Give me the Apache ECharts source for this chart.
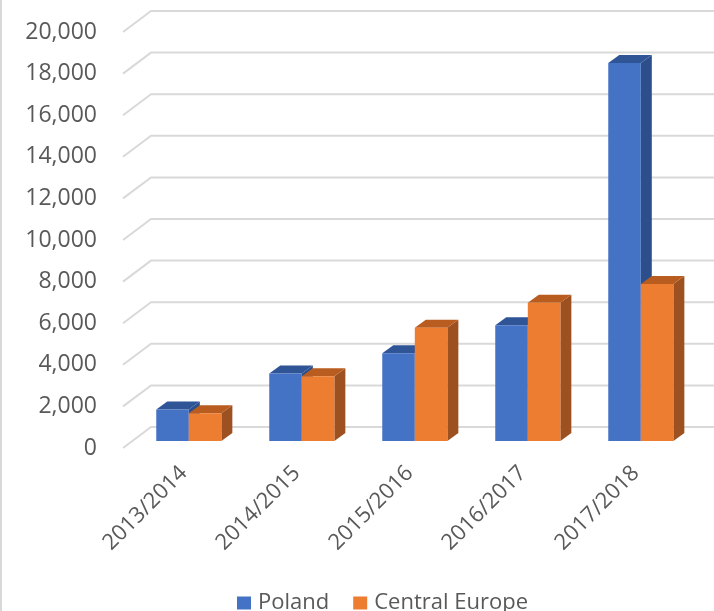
<!DOCTYPE html>
<html>
<head>
<meta charset="utf-8">
<script src="https://cdn.jsdelivr.net/npm/echarts@6/dist/echarts.min.js"></script>
<style>
  html, body { margin: 0; padding: 0; background: #ffffff; }
  #chart { width: 714px; height: 611px; }
</style>
</head>
<body>
<div id="chart"></div>
<script>
// Seasons on the category axis
const seasons = ['2013/2014', '2014/2015', '2015/2016', '2016/2017', '2017/2018'];
// Series values
const poland = [1520, 3240, 4220, 5560, 18170];
const centralEurope = [1330, 3110, 5450, 6650, 7550];
// Value axis ticks
const valueTicks = [0, 2000, 4000, 6000, 8000, 10000, 12000, 14000, 16000, 18000, 20000];

const FONT = '"Open Sans", "Noto Sans", sans-serif';
const TEXT = '#595959';
const GRID_LINE = '#d9d9d9';

// Oblique projection: floor depth (front edge -> back wall)
const WALL_DX = 28, WALL_DY = -21;
// Bars sit one third of the way into the floor
const BAR_OFF_X = 9.3, BAR_OFF_Y = -7;
// Bar depth
const BAR_DX = 11, BAR_DY = -8;
const BAR_FRACTION = 0.288;

const palettes = {
  blue:   { front: '#4472c4', top: '#2f5597', side: '#2c4f8c' },
  orange: { front: '#ed7d31', top: '#b95c1f', side: '#9d5120' }
};

function barRenderer(slot, pal) {
  return function (params, api) {
    const cat = api.value(0);
    const base = api.coord([cat, 0]);
    const top = api.coord([cat, api.value(1)]);
    const band = api.size([1, 0])[0];
    const w = band * BAR_FRACTION;
    const x0 = base[0] + BAR_OFF_X + (slot === 0 ? -w : 0);
    const x1 = x0 + w;
    const yb = base[1] + BAR_OFF_Y;
    const yt = top[1] + BAR_OFF_Y;
    return {
      type: 'group',
      children: [
        { type: 'polygon', shape: { points: [[x1, yb], [x1 + BAR_DX, yb + BAR_DY], [x1 + BAR_DX, yt + BAR_DY], [x1, yt]] },
          style: { fill: pal.side } },
        { type: 'polygon', shape: { points: [[x0, yt], [x1, yt], [x1 + BAR_DX, yt + BAR_DY], [x0 + BAR_DX, yt + BAR_DY]] },
          style: { fill: pal.top } },
        { type: 'rect', shape: { x: x0, y: yt, width: w, height: yb - yt },
          style: { fill: pal.front } }
      ]
    };
  };
}

const chart = echarts.init(document.getElementById('chart'), null, { renderer: 'canvas' });

chart.setOption({
  backgroundColor: '#ffffff',
  animation: false,
  textStyle: { fontFamily: FONT },
  graphic: [{
    type: 'line', shape: { x1: 1, y1: 0, x2: 1, y2: 611 },
    style: { stroke: '#d9d9d9', lineWidth: 2 }, silent: true
  }],
  grid: { left: 123, right: 26, top: 32, bottom: 163 },
  xAxis: {
    type: 'category',
    data: seasons,
    axisLine: { show: false },
    axisTick: { show: false },
    axisLabel: {
      rotate: 45, margin: 26, color: TEXT, fontSize: 22, fontFamily: FONT, interval: 0,
      padding: [0, -6, 0, 0]
    }
  },
  yAxis: {
    type: 'value',
    min: 0, max: 20000, interval: 2000,
    axisLine: { show: false },
    axisTick: { show: false },
    splitLine: { show: false },
    axisLabel: {
      margin: 26, color: TEXT, fontSize: 23, fontFamily: FONT,
      formatter: v => v.toLocaleString('en-US')
    }
  },
  legend: {
    top: 592,
    left: 237,
    padding: 0,
    icon: 'rect',
    itemWidth: 14, itemHeight: 13, itemGap: 24,
    textStyle: { color: TEXT, fontSize: 22, fontFamily: FONT, padding: [0, 0, 0, 2] },
    data: ['Poland', 'Central Europe']
  },
  series: [
    {
      name: 'gridlines',
      type: 'custom',
      z: 1,
      silent: true,
      data: valueTicks.map(v => [0, v]),
      encode: { x: 0, y: 1 },
      renderItem: (params, api) => {
        const cs = params.coordSys;
        const y = api.coord([0, api.value(1)])[1];
        const left = cs.x;
        const right = cs.x + cs.width + WALL_DX + 10;
        return {
          type: 'polyline',
          shape: { points: [[left, y], [left + WALL_DX, y + WALL_DY], [right, y + WALL_DY]] },
          style: { stroke: GRID_LINE, lineWidth: 2, fill: null },
          silent: true
        };
      }
    },
    {
      name: 'Poland',
      type: 'custom',
      z: 2,
      itemStyle: { color: palettes.blue.front },
      data: poland.map((v, i) => [i, v]),
      encode: { x: 0, y: 1 },
      renderItem: barRenderer(0, palettes.blue)
    },
    {
      name: 'Central Europe',
      type: 'custom',
      z: 3,
      itemStyle: { color: palettes.orange.front },
      data: centralEurope.map((v, i) => [i, v]),
      encode: { x: 0, y: 1 },
      renderItem: barRenderer(1, palettes.orange)
    }
  ]
});
</script>
</body>
</html>
